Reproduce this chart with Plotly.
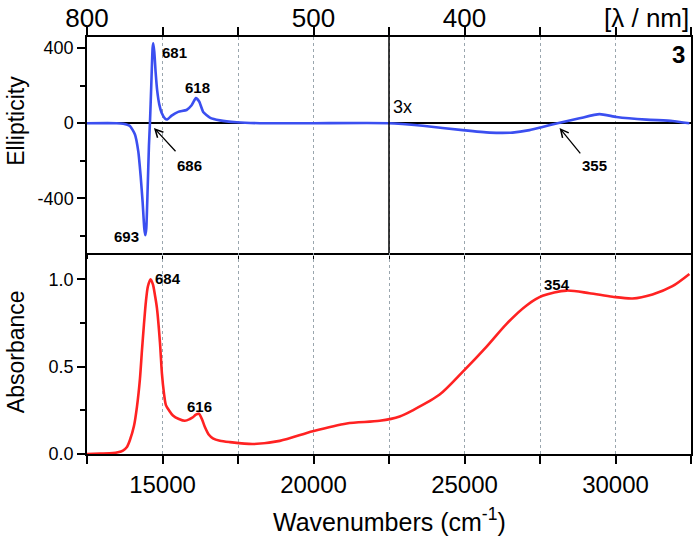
import plotly.graph_objects as go

# ---- CD spectrum (top panel, region above 22500 cm-1 shown 3x) ----
cd_wavenumber = [12500, 13482, 13702, 13922, 14088, 14198, 14276, 14342, 14397, 14430,
                 14463, 14508, 14551, 14584, 14628, 14673, 14695, 14728, 14773, 14826,
                 14893, 14971, 15080, 15156, 15302, 15520, 15798, 15964, 16106, 16215,
                 16348, 16569, 16900, 17452, 18223, 20000, 22500,
                 23615, 24938, 25831, 26592, 27154, 27584, 28080, 28808, 29470,
                 30032, 31025, 31885, 32447]
cd_ellipticity = [0, 0, -3, -15, -60, -150, -280, -420, -560, -595,
                  -560, -350, -120, 0, 200, 400, 425, 380, 270, 170,
                  100, 55, 25, 20, 40, 60, 70, 95, 133, 115,
                  60, 30, 15, 5, 0, 0, 0,
                  -14, -37, -50, -50, -37, -20, 0, 26, 48,
                  33, 19, 12, 0]

# ---- Absorption spectrum (bottom panel) ----
abs_wavenumber = [12500, 12930, 13360, 13525, 13691, 13823, 13922, 14055, 14154, 14253,
                  14319, 14385, 14452, 14518, 14607, 14683, 14749, 14816, 14915, 14981,
                  15047, 15113, 15213, 15345, 15543, 15742, 15907, 16006, 16106, 16205,
                  16304, 16403, 16536, 16668, 16900, 17231, 17991, 18884, 19976, 21101,
                  22192, 22854, 23284, 24177, 24938, 25732, 26394, 27055, 27584, 28378,
                  29139, 29900, 30562, 31224, 31885, 32447]
absorbance = [0.0, 0.002, 0.005, 0.01, 0.02, 0.04, 0.08, 0.16, 0.27, 0.43,
              0.59, 0.74, 0.875, 0.96, 1.0, 0.97, 0.91, 0.835, 0.64, 0.46,
              0.35, 0.28, 0.25, 0.22, 0.2, 0.19, 0.2, 0.21, 0.225, 0.23,
              0.2, 0.155, 0.11, 0.09, 0.076, 0.068, 0.057, 0.075, 0.13, 0.175,
              0.19, 0.215, 0.25, 0.34, 0.47, 0.615, 0.745, 0.85, 0.905, 0.935,
              0.92, 0.9, 0.89, 0.913, 0.96, 1.03]

# ---- tick labels ----
wl_tickvals = [12500, 15000, 17500, 20000, 22500, 25000, 27500, 30000, 32500]
wl_ticktext = ["800", "", "", "500", "", "400", "", "", ""]
cd_tickvals = [-400, 0, 400]
cd_ticktext = ["-400", "0", "400"]
abs_tickvals = [0, 0.5, 1.0]
abs_ticktext = ["0.0", "0.5", "1.0"]

# ---- peak labels ----
cd_labels = [("681", 15411, 376), ("618", 16172, 191), ("686", 15907, -223),
             ("693", 13823, -604), ("355", 29305, -223)]
abs_labels = [("684", 15180, 1.006), ("616", 16238, 0.273), ("354", 28048, 0.97)]

FONT = "Liberation Sans, Arial, sans-serif"
GRID = "#9aa6ae"

fig = go.Figure()
fig.add_trace(go.Scatter(x=cd_wavenumber, y=cd_ellipticity, mode="lines",
                         line=dict(color="#3b4ff0", width=2.6, shape="spline", smoothing=0.5),
                         xaxis="x", yaxis="y", showlegend=False))
fig.add_trace(go.Scatter(x=abs_wavenumber, y=absorbance, mode="lines",
                         line=dict(color="#ff2222", width=2.6, shape="spline", smoothing=0.8),
                         xaxis="x2", yaxis="y2", showlegend=False))
# dummy trace so the top wavelength axis renders
fig.add_trace(go.Scatter(x=[None], y=[None], xaxis="x3", yaxis="y", showlegend=False))

XR = [12500, 32500]
fig.update_layout(
    width=698, height=546, autosize=False,
    margin=dict(l=87, r=7, t=37, b=92),
    plot_bgcolor="white", paper_bgcolor="white",
    font=dict(family=FONT, color="black"),
    xaxis=dict(domain=[0, 1], anchor="y", range=XR, tick0=12500, dtick=2500,
               showticklabels=False, ticks="outside", ticklen=4, tickcolor="black",
               showgrid=True, gridcolor=GRID, griddash="dot", gridwidth=1,
               showline=True, linecolor="black", linewidth=1.5, zeroline=False,
               automargin=False),
    xaxis2=dict(domain=[0, 1], anchor="y2", range=XR, tick0=15000, dtick=5000,
                tickformat="d",
                ticks="outside", ticklen=8, tickwidth=1.5, tickcolor="black",
                tickfont=dict(size=24),
                minor=dict(dtick=2500, ticks="outside", ticklen=8, tickcolor="black",
                           showgrid=True, gridcolor=GRID, griddash="dot"),
                showgrid=True, gridcolor=GRID, griddash="dot",
                showline=True, linecolor="black", linewidth=1.5, mirror=False, zeroline=False,
                automargin=False),
    xaxis3=dict(overlaying="x", anchor="y", side="top", range=XR,
                tickmode="array", tickvals=wl_tickvals, ticktext=wl_ticktext,
                ticks="outside", ticklen=8, tickwidth=1.5, tickcolor="black",
                tickfont=dict(size=26), ticklabelstandoff=-10,
                showgrid=False, zeroline=False,
                showline=True, linecolor="black", linewidth=1.5, automargin=False),
    yaxis=dict(domain=[0.482, 1], anchor="x", range=[-690, 458],
               tickmode="array", tickvals=cd_tickvals, ticktext=cd_ticktext,
               ticks="outside", ticklen=8, tickwidth=1.5,
               tickcolor="black", tickfont=dict(size=18),
               minor=dict(tickvals=[-600, -200, 200], ticks="outside", ticklen=5, tickcolor="black"),
               showgrid=False, zeroline=True, zerolinecolor="black", zerolinewidth=1.5,
               showline=True, linecolor="black", linewidth=1.5, mirror=True, automargin=False),
    yaxis2=dict(domain=[0, 0.482], anchor="x2", range=[0, 1.15],
                tickmode="array", tickvals=abs_tickvals, ticktext=abs_ticktext,
                ticks="outside", ticklen=8,
                tickwidth=1.5, tickcolor="black", tickfont=dict(size=18),
                minor=dict(tickvals=[0.25, 0.75], ticks="outside", ticklen=5, tickcolor="black"),
                showgrid=False, zeroline=False,
                showline=True, linecolor="black", linewidth=1.5, mirror=True, automargin=False),
)

# solid divider at 22500 in the CD panel
fig.add_shape(type="line", xref="x", yref="y domain", x0=22500, x1=22500, y0=0, y1=1,
              line=dict(color="black", width=1.5))

# axis titles
fig.add_annotation(text="Ellipticity", xref="paper", yref="paper", x=-0.117, y=0.80,
                   textangle=-90, showarrow=False, font=dict(size=23),
                   xanchor="center", yanchor="middle")
fig.add_annotation(text="Absorbance", xref="paper", yref="paper", x=-0.117, y=0.245,
                   textangle=-90, showarrow=False, font=dict(size=23),
                   xanchor="center", yanchor="middle")
fig.add_annotation(text="Wavenumbers (cm<sup>-1</sup>)", xref="paper", yref="paper",
                   x=0.5, y=-0.158, showarrow=False, font=dict(size=25),
                   xanchor="center", yanchor="middle")
fig.add_annotation(text="[λ / nm]", xref="paper", yref="paper", x=1.0, y=1.0, yshift=19,
                   xanchor="right", yanchor="middle", showarrow=False, font=dict(size=26))
fig.add_annotation(text="<b>3</b>", xref="paper", yref="paper", x=0.980, y=0.959,
                   xanchor="center", yanchor="middle", showarrow=False, font=dict(size=24))
fig.add_annotation(text="3x", xref="x", yref="y", x=22950, y=85, showarrow=False,
                   font=dict(size=18))

for t, xv, yv in cd_labels:
    fig.add_annotation(text="<b>%s</b>" % t, xref="x", yref="y", x=xv, y=yv,
                       showarrow=False, font=dict(size=15))
for t, xv, yv in abs_labels:
    fig.add_annotation(text="<b>%s</b>" % t, xref="x2", yref="y2", x=xv, y=yv,
                       showarrow=False, font=dict(size=15))

# arrows
for hx, hy, tx, ty in [(14716, -25, 15477, -157), (28147, -25, 28875, -168)]:
    fig.add_annotation(text="", xref="x", yref="y", x=hx, y=hy, axref="x", ayref="y",
                       ax=tx, ay=ty, showarrow=True, arrowhead=5, arrowsize=1.2,
                       arrowwidth=1.3, arrowcolor="black")

fig.write_html("out.html", config={"displayModeBar": False},
               post_script="document.body.style.margin='0';document.body.style.padding='0';")
